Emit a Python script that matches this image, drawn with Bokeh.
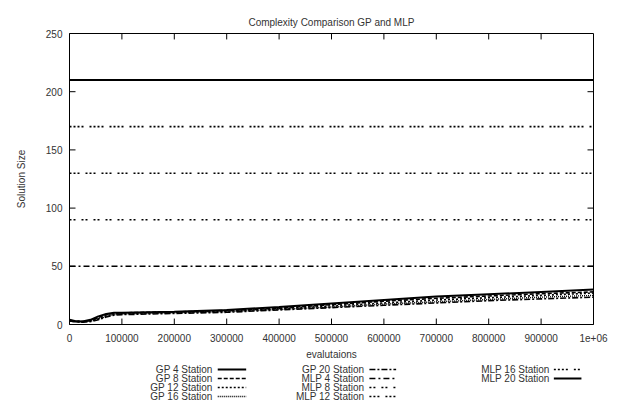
from bokeh.plotting import figure
from bokeh.models import FixedTicker, Range1d
from bokeh.layouts import column
from bokeh.embed import file_html
from bokeh.resources import INLINE
from bokeh.core.properties import value

# ---------------- data ----------------
evals = [0, 10000, 25000, 40000, 55000, 70000, 85000, 100000, 150000, 200000,
         300000, 400000, 500000, 600000, 700000, 800000, 900000, 1000000]
gp4 = [4, 3, 2.5, 4, 7, 9, 10, 10, 10.5, 11, 12.5, 15, 18, 21, 24, 26, 28, 30]
gp8 = [3, 2.5, 2.5, 3.5, 6, 8.5, 9.5, 10, 10.5, 10.8, 12, 14, 17, 20, 22.5, 24.5, 26.5, 28]
gp12 = [3.5, 3, 2.5, 3, 5, 7.5, 9, 9.5, 10, 10.5, 11.5, 13.5, 16, 18.5, 21, 23, 25, 27]
gp16 = [3, 2.5, 2, 3, 4.5, 7, 8.5, 9, 9.5, 10, 11, 13, 15, 17.5, 19.5, 21.5, 23.5, 25]
gp20 = [3, 2.5, 2, 2.5, 4, 6.5, 8, 8.5, 9, 9.5, 10.5, 12.5, 14.5, 16.5, 18.5, 20.5, 22, 23.5]
mlp_x = [0, 1000000]
mlp4 = [50, 50]
mlp8 = [90, 90]
mlp12 = [130, 130]
mlp16 = [170, 170]
mlp20 = [210, 210]

x_ticks = [0, 100000, 200000, 300000, 400000, 500000, 600000, 700000, 800000, 900000, 1000000]
x_tick_labels = ["0", "100000", "200000", "300000", "400000", "500000", "600000",
                 "700000", "800000", "900000", "1e+06"]
y_ticks = [0, 50, 100, 150, 200, 250]

series_names = ["GP 4 Station", "GP 8 Station", "GP 12 Station", "GP 16 Station",
                "GP 20 Station", "MLP 4 Station", "MLP 8 Station", "MLP 12 Station",
                "MLP 16 Station", "MLP 20 Station"]

# ---------------- styles ----------------
FONT = "Liberation Sans"
TXT = "#333333"
styles = [
    dict(line_dash="solid", line_width=2),
    dict(line_dash="4 2", line_width=1.6),
    dict(line_dash="2 2", line_width=1.6),
    dict(line_dash="1 1", line_width=1.4),
    dict(line_dash="6 2 2 2", line_width=1.6),
    dict(line_dash="6 3 2 3", line_width=1.6),
    dict(line_dash="2 2 2 6", line_width=1.6),
    dict(line_dash="2 2 2 2 2 6", line_width=1.6),
    dict(line_dash="2 2 2 2 2 2 2 6", line_width=1.6),
    dict(line_dash="solid", line_width=2),
]

W = 608
X0, X1, Y0, Y1 = 0, 1000000, 0, 250
BL, BR, BT, BB = 69, 15, 33, 35
H = 362
p = figure(width=W, height=H, output_backend="svg", toolbar_location=None,
           x_range=Range1d(X0, X1), y_range=Range1d(Y0, Y1),
           title="Complexity Comparison GP and MLP",
           min_border_left=BL, min_border_right=BR, min_border_top=BT, min_border_bottom=BB)
p.title.align = "center"
p.title.text_font = FONT
p.title.text_font_style = "normal"
p.title.text_font_size = "10px"
p.title.text_color = TXT
p.title.standoff = 12
p.grid.visible = False
p.outline_line_color = "black"
p.outline_line_width = 1

p.xaxis.ticker = FixedTicker(ticks=x_ticks)
p.xaxis.major_label_overrides = {t: l for t, l in zip(x_ticks, x_tick_labels)}
p.xaxis.axis_label = "evalutaions"
p.yaxis.ticker = FixedTicker(ticks=y_ticks)
p.yaxis.axis_label = "Solution Size"
for ax in list(p.xaxis) + list(p.yaxis):
    ax.major_tick_in = 0
    ax.major_tick_out = 0
    ax.minor_tick_line_color = None
    ax.axis_line_color = "black"
    ax.major_label_text_font = FONT
    ax.major_label_text_font_size = "10px"
    ax.major_label_text_color = TXT
    ax.axis_label_text_font = FONT
    ax.axis_label_text_font_size = "10px"
    ax.axis_label_text_font_style = "normal"
    ax.axis_label_text_color = TXT
p.xaxis.major_label_standoff = 9
p.xaxis.axis_label_standoff = 4
p.yaxis.major_label_standoff = 7
p.yaxis.axis_label_standoff = 16

# inward ticks on all four sides (6 px long), from the tick arrays
plot_w = W - BL - BR
plot_h = H - BT - BB
tlx = 6 * (X1 - X0) / plot_w
tly = 6 * (Y1 - Y0) / plot_h
inner_x = x_ticks[1:-1]
inner_y = y_ticks[1:-1]
p.segment(x0=inner_x, y0=[Y0] * len(inner_x), x1=inner_x, y1=[Y0 + tly] * len(inner_x),
          line_color="black", line_width=1)
p.segment(x0=inner_x, y0=[Y1] * len(inner_x), x1=inner_x, y1=[Y1 - tly] * len(inner_x),
          line_color="black", line_width=1)
p.segment(x0=[X0] * len(inner_y), y0=inner_y, x1=[X0 + tlx] * len(inner_y), y1=inner_y,
          line_color="black", line_width=1)
p.segment(x0=[X1] * len(inner_y), y0=inner_y, x1=[X1 - tlx] * len(inner_y), y1=inner_y,
          line_color="black", line_width=1)

gp_series = [gp4, gp8, gp12, gp16, gp20]
mlp_series = [mlp4, mlp8, mlp12, mlp16, mlp20]
for i, ys in enumerate(gp_series):
    p.line(evals, ys, color="black", **styles[i])
for i, ys in enumerate(mlp_series):
    p.line(mlp_x, ys, color="black", **styles[5 + i])

# ---------------- legend (separate panel) ----------------
LH = 40
lg = figure(width=W, height=LH, output_backend="svg", toolbar_location=None,
            x_range=Range1d(0, W), y_range=Range1d(LH, 0),
            min_border=0, outline_line_color=None)
lg.axis.visible = False
lg.grid.visible = False

col_text_right = [166, 342, 557]
col_line = [(172, 205), (348, 379), (562, 594)]
row_y = [7, 16, 25, 34]
tx, ty, tt = [], [], []
for i, name in enumerate(series_names):
    c, r = divmod(i, 4)
    tx.append(col_text_right[c]); ty.append(row_y[r]); tt.append(name)
    lg.line([col_line[c][0], col_line[c][1]], [row_y[r], row_y[r]], color="black", **styles[i])
lg.text(x=tx, y=ty, text=tt, text_align="right", text_baseline="middle",
        text_font=value(FONT), text_font_size="10px", text_color=TXT)

layout = column(p, lg, spacing=0)
open("out.html", "w").write(file_html(layout, INLINE))
